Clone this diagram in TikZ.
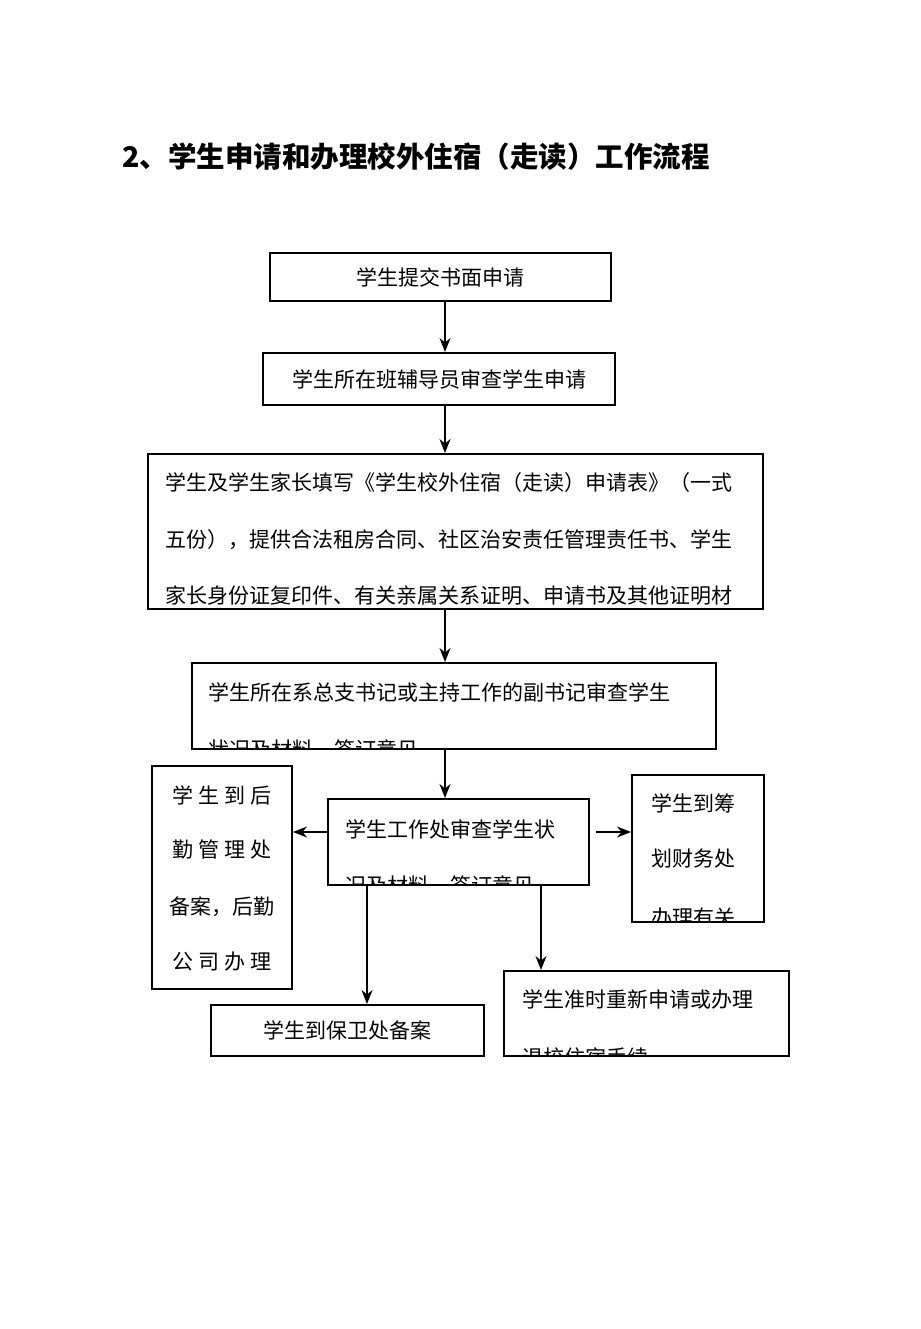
\documentclass[tikz,border=0pt]{standalone}
\usepackage{fontspec}
\newfontfamily\cjk{Noto Sans CJK SC}
\usetikzlibrary{arrows.meta,calc,positioning}
\tikzset{
  box/.style={draw, line width=2pt, anchor=north west, inner sep=0pt},
  txt/.style={font=\cjk\fontsize{21}{21}\selectfont, inner sep=0pt},
  arr/.style={-{Stealth[length=14pt,width=11pt]}, line width=2pt},
}
\newcommand{\spread}[4]{\makebox[100pt]{#1\hfill #2\hfill #3\hfill #4}}
\begin{document}
\begin{tikzpicture}[x=1pt,y=-1pt]
\useasboundingbox (0,0) rectangle (920,1329);
\node[anchor=west, font=\cjk\bfseries\fontsize{28.5}{28.5}\selectfont, inner sep=0pt] (title) at (122,157) {2、学生申请和办理校外住宿（走读）工作流程};

% boxes
\node[box, minimum width=341pt, minimum height=48pt] (submit) at (269,252) {};
\node[box, minimum width=352pt, minimum height=52pt] (tutor) at (262,352) {};
\node[box, minimum width=615pt, minimum height=155pt] (form) at (147,453) {};
\node[box, minimum width=524pt, minimum height=86pt] (dept) at (191,662) {};
\node[box, minimum width=261pt, minimum height=86pt] (office) at (327,798) {};
\node[box, minimum width=140pt, minimum height=223pt] (logistics) at (151,765) {};
\node[box, minimum width=132pt, minimum height=147pt] (finance) at (631,774) {};
\node[box, minimum width=273pt, minimum height=51pt] (security) at (210,1004) {};
\node[box, minimum width=285pt, minimum height=85pt] (redo) at (503,970) {};

% texts
\node[txt] (t1) at (submit.center) {学生提交书面申请};
\node[txt] (t2) at (tutor.center) {学生所在班辅导员审查学生申请};
\begin{scope}
  \clip (form.north west) rectangle ([yshift=2pt]form.south east);
  \node[txt, anchor=west] at (165,483) {学生及学生家长填写《学生校外住宿（走读）申请表》（一式};
  \node[txt, anchor=west] at (165,540) {五份），提供合法租房合同、社区治安责任管理责任书、学生};
  \node[txt, anchor=west] at (165,596) {家长身份证复印件、有关亲属关系证明、申请书及其他证明材};
\end{scope}
\begin{scope}
  \clip (dept.north west) rectangle ([yshift=2pt]dept.south east);
  \node[txt, anchor=west] at (208,692) {学生所在系总支书记或主持工作的副书记审查学生};
  \node[txt, anchor=west] at (208,750) {状况及材料，签订意见};
\end{scope}
\begin{scope}
  \clip (office.north west) rectangle ([yshift=2pt]office.south east);
  \node[txt, anchor=west] at (345,829) {学生工作处审查学生状};
  \node[txt, anchor=west] at (345,886) {况及材料，签订意见};
\end{scope}
\node[txt] at (222,795) {\spread{学}{生}{到}{后}};
\node[txt] at (222,850) {\spread{勤}{管}{理}{处}};
\node[txt] at (222,907) {\makebox[100pt]{备案，后勤}};
\node[txt] at (222,962) {\spread{公}{司}{办}{理}};
\begin{scope}
  \clip (finance.north west) rectangle ([yshift=2pt]finance.south east);
  \node[txt, anchor=west] at (651,803) {学生到筹};
  \node[txt, anchor=west] at (651,859) {划财务处};
  \node[txt, anchor=west] at (651,918) {办理有关};
\end{scope}
\node[txt] (t8) at (security.center) {学生到保卫处备案};
\begin{scope}
  \clip (redo.north west) rectangle ([yshift=2pt]redo.south east);
  \node[txt, anchor=west] at (522,999) {学生准时重新申请或办理};
  \node[txt, anchor=west] at (522,1057) {退校住宿手续};
\end{scope}

% connectors
\draw[arr] (submit.south -| 445,0) -- (tutor.north -| 445,0);
\draw[arr] (tutor.south -| 445,0) -- (form.north -| 445,0);
\draw[arr] (form.south -| 445,0) -- (dept.north -| 445,0);
\draw[arr] (dept.south -| 445,0) -- (office.north -| 445,0);
\draw[arr] (office.west |- 0,832) -- (logistics.east |- 0,832);
\draw[arr] ([xshift=6pt]office.east |- 0,832) -- (finance.west |- 0,832);
\draw[arr] (office.south -| 367,0) -- (security.north -| 367,0);
\draw[arr] (office.south -| 541,0) -- (redo.north -| 541,0);
\end{tikzpicture}
\end{document}
